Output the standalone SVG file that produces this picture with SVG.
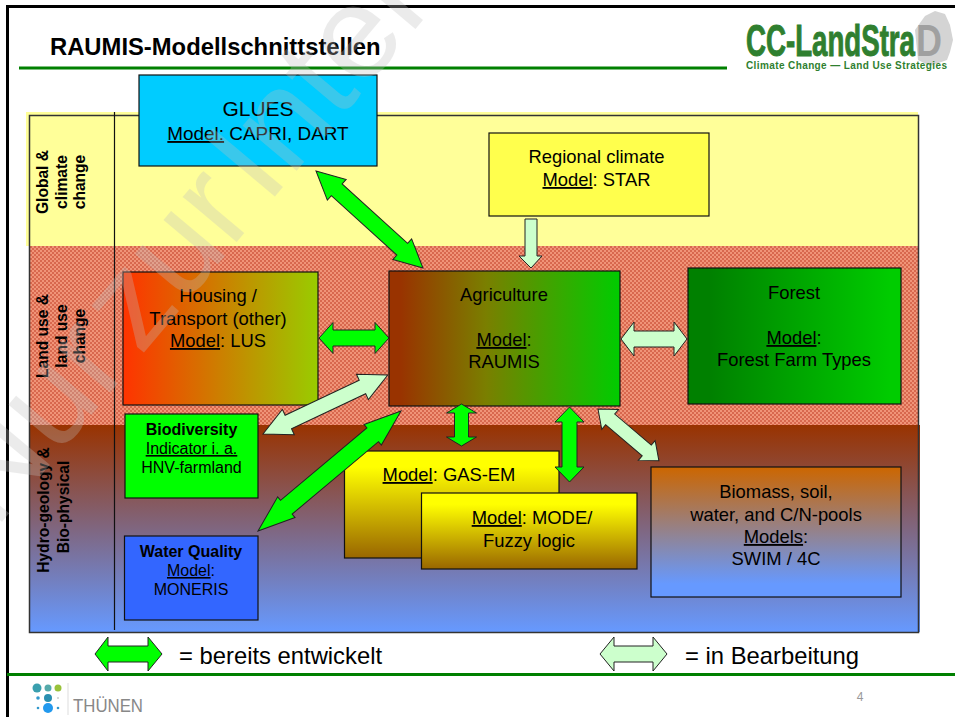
<svg xmlns="http://www.w3.org/2000/svg" width="955" height="717" viewBox="0 0 955 717">
<style>
text{font-family:"Liberation Sans",Arial,sans-serif;fill:#000}
.c{text-anchor:middle;font-size:18.4px}
.s{text-anchor:middle;font-size:16px}
.b{font-weight:bold}
.v{text-anchor:middle;font-size:15.6px;font-weight:bold}
.u{text-decoration:underline}
.box{stroke:#111;stroke-width:1.2}
.g{fill:#00ff00;stroke:#222;stroke-width:1}
.l{fill:#ccffcc;stroke:#222;stroke-width:1}
</style>
<defs>
<pattern id="chk" width="4" height="4" patternUnits="userSpaceOnUse"><rect width="4" height="4" fill="#f09478"/><rect width="2" height="2" fill="#d8684e"/><rect x="2" y="2" width="2" height="2" fill="#d8684e"/></pattern>
<linearGradient id="hydro" x1="0" y1="0" x2="0" y2="1"><stop offset="0" stop-color="#993300"/><stop offset="1" stop-color="#6699ff"/></linearGradient>
<linearGradient id="house"><stop offset="0" stop-color="#ff3300"/><stop offset="1" stop-color="#99cc00"/></linearGradient>
<linearGradient id="agri"><stop offset="0.05" stop-color="#993300"/><stop offset="0.42" stop-color="#7a7f00"/><stop offset="1" stop-color="#00cc00"/></linearGradient>
<linearGradient id="forest"><stop offset="0.1" stop-color="#008000"/><stop offset="0.95" stop-color="#00cc00"/></linearGradient>
<linearGradient id="yel" x1="0" y1="0" x2="0" y2="1"><stop offset="0" stop-color="#ffff00"/><stop offset="0.15" stop-color="#ffff00"/><stop offset="1" stop-color="#996600"/></linearGradient>
<linearGradient id="bio" x1="0" y1="0" x2="0" y2="1"><stop offset="0" stop-color="#cc6600"/><stop offset="0.9" stop-color="#6699ff"/><stop offset="1" stop-color="#6699ff"/></linearGradient>
</defs>
<rect width="955" height="717" fill="#fff"/>
<g id="frame">
<path d="M7.500 717V6.500H955" fill="none" stroke="#000" stroke-width="3"/>
<rect x="19" y="66.500" width="708" height="3" fill="#008000"/>
<rect x="7" y="673" width="948" height="3" fill="#008000"/>
<text x="50" y="55" font-size="23.800" class="b">RAUMIS-Modellschnittstellen</text>
</g>
<g id="bands">
<rect x="26" y="112" width="892" height="134" fill="#ffff99"/>
<rect x="29" y="246" width="889" height="179" fill="url(#chk)"/>
<rect x="29" y="425" width="891" height="207" fill="url(#hydro)"/>
<rect x="29.500" y="115.500" width="889" height="517" fill="none" stroke="#333" stroke-width="1.500"/>
<path d="M114.500 112V630" stroke="#111" stroke-width="1.200"/>
<text class="v" transform="translate(48,182) rotate(-90)">Global &amp;</text>
<text class="v" transform="translate(67,182) rotate(-90)">climate</text>
<text class="v" transform="translate(85,182) rotate(-90)">change</text>
<text class="v" transform="translate(48,336) rotate(-90)">Land use &amp;</text>
<text class="v" transform="translate(67,336) rotate(-90)">land use</text>
<text class="v" transform="translate(85,336) rotate(-90)">change</text>
<text class="v" transform="translate(49,510) rotate(-90)">Hydro-geology &amp;</text>
<text class="v" transform="translate(69,507) rotate(-90)">Bio-physical</text>
</g>
<g id="node-glues">
<rect class="box" x="139" y="75" width="238" height="91" fill="#00ccff"/>
<text class="c" x="258" y="116" style="font-size:21px">GLUES</text>
<text class="c" x="258" y="140" style="font-size:18.900px"><tspan class="u">Model:</tspan> CAPRI, DART</text>
</g>
<g id="node-climate">
<rect class="box" x="489" y="133" width="220" height="83" fill="#ffff4d"/>
<text class="c" x="596.500" y="163">Regional climate</text>
<text class="c" x="596.500" y="186"><tspan class="u">Model</tspan>: STAR</text>
</g>
<g id="node-housing">
<rect class="box" x="123" y="272" width="195" height="133" fill="url(#house)"/>
<text class="c" x="218" y="302">Housing /</text>
<text class="c" x="218" y="325">Transport (other)</text>
<text class="c" x="218" y="347"><tspan class="u">Model</tspan>: LUS</text>
</g>
<g id="node-agriculture">
<rect class="box" x="389" y="271" width="231" height="135" fill="url(#agri)"/>
<text class="c" x="504" y="301">Agriculture</text>
<text class="c" x="504" y="346"><tspan class="u">Model</tspan>:</text>
<text class="c" x="504" y="368">RAUMIS</text>
</g>
<g id="node-forest">
<rect class="box" x="688" y="268" width="213" height="136" fill="url(#forest)"/>
<text class="c" x="794" y="299">Forest</text>
<text class="c" x="794" y="344"><tspan class="u">Model</tspan>:</text>
<text class="c" x="794" y="366">Forest Farm Types</text>
</g>
<g id="node-biodiversity">
<rect class="box" x="125" y="414" width="133" height="84" fill="#00ff00"/>
<text class="s b" x="191.500" y="435">Biodiversity</text>
<text class="s u" x="191.500" y="454">Indicator i. a.</text>
<text class="s" x="191.500" y="473">HNV-farmland</text>
</g>
<g id="node-water">
<rect class="box" x="124.500" y="536" width="133.500" height="84" fill="#3366ff"/>
<text class="s b" x="191" y="557">Water Quality</text>
<text class="s" x="191" y="576"><tspan class="u">Model</tspan>:</text>
<text class="s" x="191" y="595">MONERIS</text>
</g>
<g id="node-gasem">
<rect class="box" x="344.500" y="451" width="214.500" height="107" fill="url(#yel)"/>
<text class="c" x="449" y="481"><tspan class="u">Model</tspan>: GAS-EM</text>
</g>
<g id="node-mode">
<rect class="box" x="421.500" y="493" width="215.500" height="76" fill="url(#yel)"/>
<text class="c" x="532" y="524"><tspan class="u">Model</tspan>: MODE/</text>
<text class="c" x="529" y="547">Fuzzy logic</text>
</g>
<g id="node-biomass">
<rect class="box" x="651" y="467" width="250" height="130" fill="url(#bio)"/>
<text class="c" x="776" y="498">Biomass, soil,</text>
<text class="c" x="776" y="521">water, and C/N-pools</text>
<text class="c" x="776" y="543"><tspan class="u">Models</tspan>:</text>
<text class="c" x="776" y="565">SWIM / 4C</text>
</g>
<g id="connectors">
<polygon class="g" transform="translate(316,171) rotate(42.2)" points="0,0 28,-14 28,-8 116.4,-8 116.4,-14 144.4,0 116.4,14 116.4,8 28,8 28,14"/>
<polygon class="l" points="525,219 537,219 537,256 542,256 531,268 519,256 525,256"/>
<polygon class="g" transform="translate(319,338)" points="0,0 14,-15.5 14,-8 56,-8 56,-15.5 70,0 56,15.5 56,8 14,8 14,15.5"/>
<polygon class="l" transform="translate(263,434) rotate(-25.3)" points="0,0 28,-14 28,-7.5 110,-7.5 110,-14 138,0 110,14 110,7.5 28,7.5 28,14"/>
<polygon class="g" transform="translate(258,531) rotate(-40)" points="0,0 37,-13.5 37,-9 149.7,-9 149.7,-13.5 186.7,0 149.7,13.5 149.7,9 37,9 37,13.5"/>
<polygon class="g" transform="translate(461.5,404) rotate(90)" points="0,0 9,-15 9,-7 33,-7 33,-15 42,0 33,15 33,7 9,7 9,15"/>
<polygon class="g" transform="translate(569.5,407) rotate(90)" points="0,0 15,-14.5 15,-7.5 60,-7.5 60,-14.5 75,0 60,14.5 60,7.5 15,7.5 15,14.5"/>
<polygon class="l" transform="translate(598,409) rotate(40.4)" points="0,0 16,-13 16,-7 64,-7 64,-13 80,0 64,13 64,7 16,7 16,13"/>
<polygon class="l" transform="translate(621,339)" points="0,0 13,-17 13,-8 53,-8 53,-17 66,0 53,17 53,8 13,8 13,17"/>
</g>
<g id="legend">
<polygon class="g" transform="translate(95,654)" points="0,0 13,-17 13,-8 53,-8 53,-17 67,0 53,17 53,8 13,8 13,17"/>
<text x="179" y="664" font-size="23.800">= bereits entwickelt</text>
<polygon class="l" transform="translate(600,654)" points="0,0 14,-17 14,-8 53,-8 53,-17 67,0 53,17 53,8 14,8 14,17"/>
<text x="685" y="664" font-size="23.800">= in Bearbeitung</text>
</g>
<g id="logo-cc">
<polygon points="925,16 935,11 945,14 950,25 953,40 950,52 947,60 930,66 918,60 915,30" fill="#d4d4d4"/>
<text x="916" y="56" font-size="44" font-weight="bold" textLength="26" lengthAdjust="spacingAndGlyphs" style="fill:#a0a0a0">D</text>
<text x="746" y="56" font-size="44" font-weight="bold" textLength="169" lengthAdjust="spacingAndGlyphs" style="fill:#2f7f2f;stroke:#2f7f2f;stroke-width:1">CC-LandStra</text>
<text x="746" y="69" font-size="10" font-weight="bold" textLength="201" lengthAdjust="spacing" style="fill:#2f7f2f">Climate Change — Land Use Strategies</text>
</g>
<g id="logo-thuenen">
<circle cx="37" cy="688" r="4.500" fill="#3a9fae"/><circle cx="48" cy="688" r="3.500" fill="#55aaaa"/><circle cx="58" cy="688" r="3.500" fill="#99c23a"/>
<circle cx="38" cy="698" r="1.800" fill="#3399cc"/><circle cx="48" cy="698" r="4" fill="#2a8fb0"/><circle cx="58" cy="698" r="1" fill="#cccccc"/>
<circle cx="38" cy="708" r="1.300" fill="#3399cc"/><circle cx="48" cy="708" r="5" fill="#2299ee"/><circle cx="58" cy="708" r="1.300" fill="#3399cc"/>
<rect x="67.500" y="683" width="1" height="32" fill="#ddd"/>
<text x="73" y="712" font-size="18.500" textLength="70" lengthAdjust="spacingAndGlyphs" style="fill:#888">THÜNEN</text>
</g>
<text x="860" y="701" font-size="12" text-anchor="middle" style="fill:#999">4</text>
<text id="watermark" transform="translate(-5,530) rotate(-50)" font-size="133" style="fill:#c0c0c0;word-spacing:-25px" opacity="0.3">Nur zur Inter</text>
</svg>
